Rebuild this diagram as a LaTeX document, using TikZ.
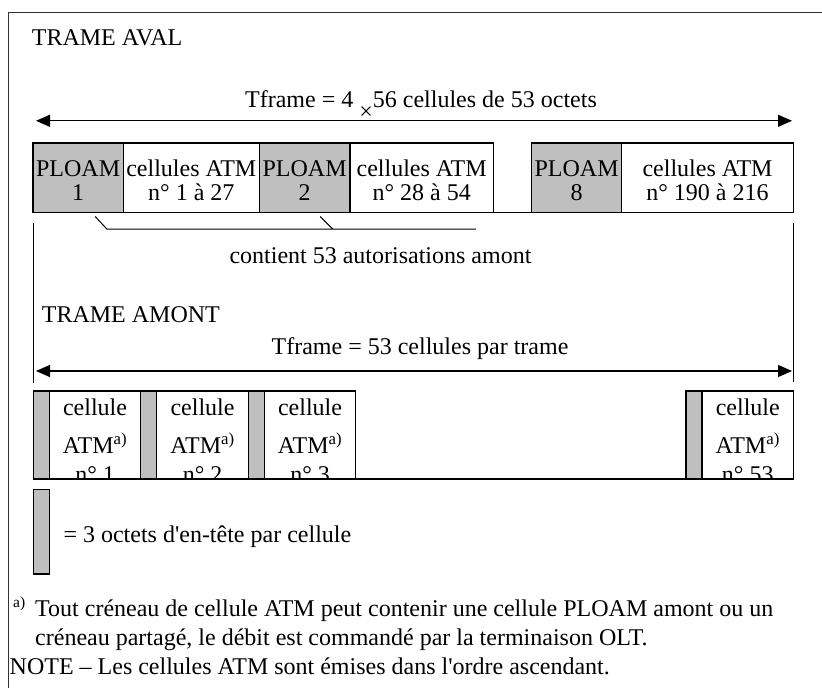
\documentclass[tikz,border=0pt]{standalone}
\usepackage{fontspec}
\setmainfont{Liberation Serif}
\usepackage{tikz}
\usetikzlibrary{positioning,arrows.meta}
\newcommand{\tophigh}{\rule{0pt}{22.4pt}}

\begin{document}
\begin{tikzpicture}[x=1pt, y=-1pt, text=black,
  font=\fontsize{24}{24}\selectfont,
  box/.style={draw=black, line width=1.2pt, minimum height=69.5pt, inner sep=0pt, outer sep=0pt, align=center, anchor=west},
  ploam/.style={box, fill=black!25},
  hdr/.style={draw=black, line width=1.2pt, fill=black!25, minimum width=16pt, minimum height=88pt, inner sep=0pt, outer sep=0pt, anchor=west},
  cell/.style={draw=black, line width=1.2pt, minimum width=91.5pt, minimum height=88pt, inner sep=0pt, outer sep=0pt, anchor=west},
  celltxt/.style={anchor=north, inner sep=0pt, align=center, font=\fontsize{24}{28.5}\selectfont},
  lbl/.style={anchor=base west, inner sep=0pt},
  span/.style={{Triangle[length=14pt,width=12pt]}-{Triangle[length=14pt,width=12pt]}, line width=1.2pt},
  thin/.style={line width=1pt}]
\def \rowone {177.75}
\def \rowtwo {435}
\useasboundingbox (0,0) rectangle (822,688);

%Frame
\draw[line width=1pt, black!80] (822,12) -- (8.5,12) -- (8.5,688);

%Trame aval
\node[lbl] (aval) at (31.7,45) {TRAME AVAL};
\node[anchor=base, inner sep=0pt] (tfaval) at (421,107) {Tframe = 4 \raisebox{-12pt}{×}56 cellules de 53 octets};
\coordinate (avall) at (36,120.8);
\coordinate (avalr) at (792,120.8);
\draw[span] (avall) -- (avalr);

%PLOAM and ATM cells
\node[ploam, minimum width=90.3pt] (p1) at (33,\rowone) {\tophigh PLOAM\\1};
\node[box, minimum width=136pt, right=0pt of p1] (c1) {\tophigh cellules ATM\\n° 1 à 27};
\node[ploam, minimum width=90.7pt, right=0pt of c1] (p2) {\tophigh PLOAM\\2};
\node[box, minimum width=143.3pt, right=0pt of p2] (c2) {\tophigh cellules ATM\\n° 28 à 54};
\node[ploam, minimum width=90.2pt, right=38.2pt of c2] (p8) {\tophigh PLOAM\\8};
\node[box, minimum width=171.6pt, right=0pt of p8] (c8) {\tophigh cellules ATM\\n° 190 à 216};
\draw[line width=1.2pt] (c2.south east) -- (p8.south west);

%Bracket under the PLOAM cells
\coordinate (k1) at ([xshift=17pt,yshift=-4pt]p1.south);
\coordinate (k2) at ([xshift=15.5pt,yshift=-4pt]p2.south);
\coordinate (kend) at (476,229);
\draw[thin] (k1) -- ++(11.7,12.5) -- (kend);
\draw[thin] (k2) -- ++(12.5,12.5);
\node[lbl] (aut) at (229.3,263.3) {contient 53 autorisations amont};

%Side lines
\coordinate (vl) at ([yshift=-10pt]p1.south west);
\coordinate (vr) at ([yshift=-10pt]c8.south east);
\draw[thin] (vl) -- ++(0,160);
\draw[thin] (vr) -- ++(0,159.5);

%Trame amont
\node[lbl] (amont) at (41.7,322.3) {TRAME AMONT};
\node[anchor=base, inner sep=0pt] (tfamont) at (420,354.3) {Tframe = 53 cellules par trame};
\coordinate (amontl) at (36,371);
\coordinate (amontr) at (792,371);
\draw[span] (amontl) -- (amontr);

%Upstream cells
\node[hdr] (h1) at (33.3,\rowtwo) {};
\node[cell, right=0pt of h1] (z1) {};
\node[hdr, right=0pt of z1] (h2) {};
\node[cell, right=0pt of h2] (z2) {};
\node[hdr, right=0pt of z2] (h3) {};
\node[cell, right=0pt of h3] (z3) {};
\node[hdr] (h53) at (686,\rowtwo) {};
\node[cell, right=0pt of h53] (z53) {};
\draw[line width=1.2pt] (z3.south east) -- (h53.south west);

\begin{scope}
\clip (33,391) rectangle (794,478.6);
\node[celltxt] (z1t) at ([yshift=-8pt]z1.north) {cellule\\[9.5pt]ATM\textsuperscript{a)}\\n° 1};
\node[celltxt] (z2t) at ([yshift=-8pt]z2.north) {cellule\\[9.5pt]ATM\textsuperscript{a)}\\n° 2};
\node[celltxt] (z3t) at ([yshift=-8pt]z3.north) {cellule\\[9.5pt]ATM\textsuperscript{a)}\\n° 3};
\node[celltxt] (z53t) at ([yshift=-8pt]z53.north) {cellule\\[9.5pt]ATM\textsuperscript{a)}\\n° 53};
\end{scope}

%Legend
\node[hdr, minimum height=84.5pt] (leg) at (33.3,531.75) {};
\node[lbl] (legt) at (63.3,542) {= 3 octets d\textquotesingle en-tête par cellule};

%Notes
\node[lbl, font=\fontsize{15.5}{16}\selectfont] (fa) at (13,607) {a)};
\node[lbl] (f1) at (35,616) {Tout créneau de cellule ATM peut contenir une cellule PLOAM amont ou un};
\node[lbl] (f2) at (35,645) {créneau partagé, le débit est commandé par la terminaison OLT.};
\node[lbl] (note) at (9.5,674) {NOTE – Les cellules ATM sont émises dans l\textquotesingle ordre ascendant.};

\end{tikzpicture}
\end{document}
